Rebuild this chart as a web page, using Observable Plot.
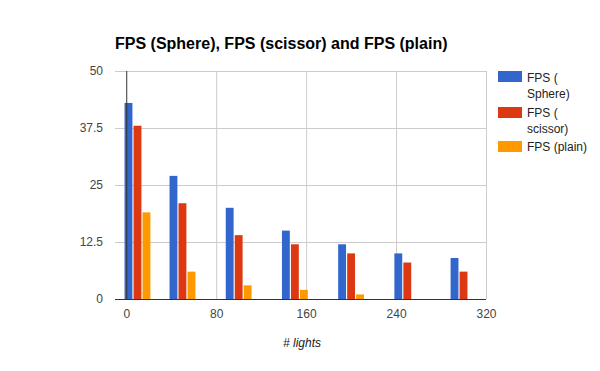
<!DOCTYPE html>
<html>
<head>
<meta charset="utf-8">
<script src="https://cdn.jsdelivr.net/npm/d3@7"></script>
<script src="https://cdn.jsdelivr.net/npm/@observablehq/plot@0.6"></script>
<style>
  html, body { margin: 0; padding: 0; background: #fff; }
  #wrap { position: relative; width: 600px; height: 371px; font-family: Arial, "Liberation Sans", sans-serif; }
  #wrap svg { position: absolute; left: 0; top: 0; }
  .title { position: absolute; left: 115px; top: 35.5px; font-size: 16px; line-height: 16px; font-weight: bold; color: #000; white-space: nowrap; }
  .xlabel { position: absolute; left: 0; width: 600px; text-align: center; top: 336.5px; font-size: 12px; line-height: 12px; font-style: italic; color: #222; padding-left: 2px; }
  .sw { position: absolute; left: 498px; width: 24px; height: 11px; }
  .lt { position: absolute; left: 527px; font-size: 12px; line-height: 16px; color: #222; white-space: nowrap; }
</style>
</head>
<body>
<div id="wrap"></div>
<script>
const title = "FPS (Sphere), FPS (scissor) and FPS (plain)";
const xTitle = "# lights";
const lights = [10, 50, 100, 150, 200, 250, 300];
const seriesNames = ["FPS ( Sphere)", "FPS ( scissor)", "FPS (plain)"];
const legendLines = [["FPS (", "Sphere)"], ["FPS (", "scissor)"], ["FPS (plain)"]];
const seriesColors = ["#3366cc", "#dc3912", "#ff9900"];
const sphere = [43, 27, 20, 15, 12, 10, 9];
const scissor = [38, 21, 14, 12, 10, 8, 6];
const plain = [19, 6, 3, 2, 1, 0, 0];
const xTicks = [0, 80, 160, 240, 320];
const yTicks = [0, 12.5, 25, 37.5, 50];

const seriesValues = [sphere, scissor, plain];
// group layout in data units: 3 bars of 7 units with 1-unit gaps, centred on each x value
const barW = 7, gap = 1, groupW = 3 * barW + 2 * gap;
const rows = [];
lights.forEach((l, j) => {
  seriesValues.forEach((vals, i) => {
    const x1 = l - groupW / 2 + i * (barW + gap);
    rows.push({series: seriesNames[i], lights: l, x1, x2: x1 + barW, value: vals[j]});
  });
});

const chart = Plot.plot({
  width: 600,
  height: 371,
  marginLeft: 115,
  marginRight: 114,
  marginTop: 71,
  marginBottom: 72,
  style: {fontFamily: "Arial, 'Liberation Sans', sans-serif", fontSize: "12px", background: "transparent"},
  x: {domain: [-10, 320], label: null},
  y: {domain: [0, 50], label: null},
  color: {domain: seriesNames, range: seriesColors},
  marks: [
    Plot.ruleY(yTicks.filter(d => d !== 0), {stroke: "#cccccc", strokeWidth: 1}),
    Plot.ruleX(xTicks.filter(d => d !== 0), {stroke: "#cccccc", strokeWidth: 1}),
    Plot.rect(rows, {x1: "x1", x2: "x2", y1: 0, y2: "value", fill: "series"}),
    Plot.ruleX([0], {stroke: "#333333", strokeWidth: 1}),
    Plot.ruleY([0], {stroke: "#333333", strokeWidth: 1}),
    Plot.axisX({ticks: xTicks, tickSize: 0, tickPadding: 9.5, tickFormat: d => String(d), fill: "#444", fontSize: 12, label: null}),
    Plot.axisY({ticks: yTicks, tickSize: 0, tickPadding: 12.5, tickFormat: d => String(d), fill: "#444", fontSize: 12, label: null})
  ]
});

const wrap = document.getElementById("wrap");
wrap.appendChild(chart);

const t = document.createElement("div");
t.className = "title";
t.textContent = title;
wrap.appendChild(t);

const xl = document.createElement("div");
xl.className = "xlabel";
xl.textContent = xTitle;
wrap.appendChild(xl);

// legend
const swatchTops = [71, 106.5, 140.7];
seriesNames.forEach((name, i) => {
  const sw = document.createElement("div");
  sw.className = "sw";
  sw.style.top = swatchTops[i] + "px";
  sw.style.background = seriesColors[i];
  wrap.appendChild(sw);
  const lt = document.createElement("div");
  lt.className = "lt";
  lt.style.top = (swatchTops[i] - 1.5) + "px";
  lt.innerHTML = legendLines[i].join("<br>");
  wrap.appendChild(lt);
});
</script>
</body>
</html>
